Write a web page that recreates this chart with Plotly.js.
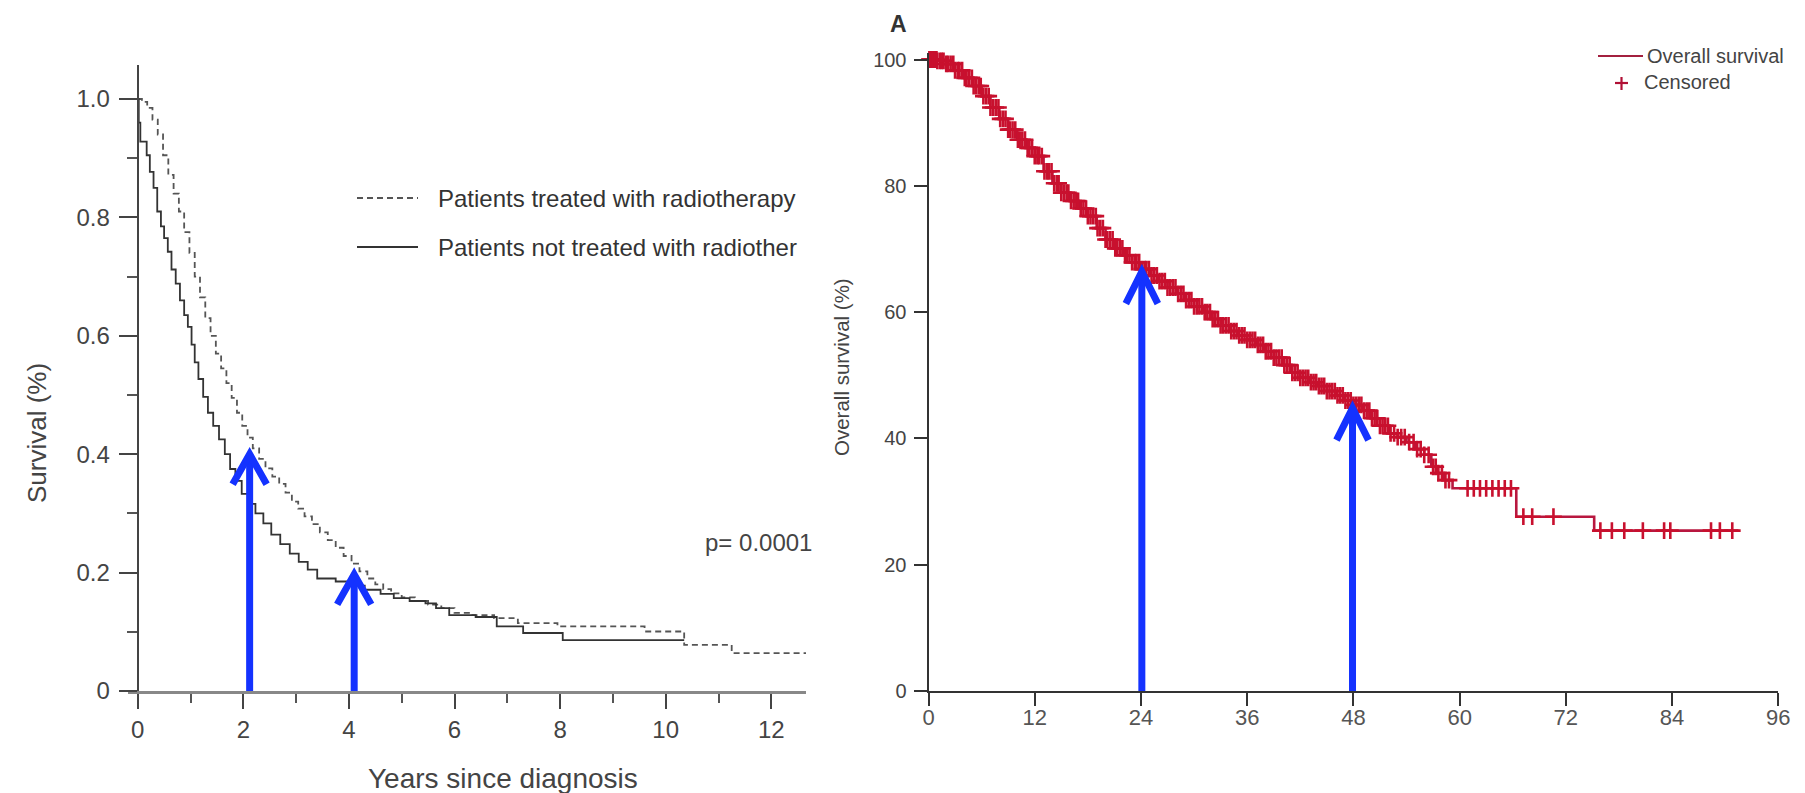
<!DOCTYPE html>
<html><head><meta charset="utf-8">
<script src="https://cdn.plot.ly/plotly-3.0.1.min.js"></script>
<style>html,body{margin:0;padding:0;background:#fff;}#chart{width:1805px;height:793px;}</style>
</head><body><div id="chart"></div>
<script>
// ---------- Left panel data (years since diagnosis, survival fraction) ----------
const treatedYears = [0,0.08,0.18,0.28,0.38,0.48,0.58,0.68,0.78,0.88,0.98,1.08,1.18,1.28,1.38,1.48,1.58,1.68,1.78,1.88,1.98,2.08,2.18,2.3,2.42,2.55,2.68,2.8,2.92,3.04,3.16,3.3,3.45,3.6,3.75,3.9,4.05,4.2,4.35,4.5,4.65,4.8,5.0,5.25,5.5,5.75,6.0,6.3,6.75,7.2,7.95,9.6,10.35,11.25,12.66];
const treatedSurv  = [1.0,0.995,0.985,0.965,0.94,0.905,0.872,0.84,0.81,0.775,0.74,0.70,0.665,0.63,0.60,0.57,0.545,0.52,0.495,0.47,0.448,0.428,0.41,0.392,0.376,0.362,0.35,0.335,0.32,0.308,0.295,0.282,0.268,0.255,0.242,0.228,0.215,0.202,0.19,0.18,0.172,0.165,0.158,0.152,0.146,0.14,0.132,0.128,0.123,0.1146,0.109,0.1005,0.078,0.064,0.064];
const untreatedYears = [0,0.02,0.05,0.17,0.23,0.3,0.37,0.44,0.5,0.57,0.64,0.72,0.8,0.88,0.95,1.02,1.08,1.15,1.24,1.33,1.43,1.54,1.65,1.75,1.85,1.97,2.1,2.23,2.38,2.53,2.7,2.88,3.05,3.22,3.4,3.75,4.0,4.3,4.6,4.85,5.15,5.45,5.65,5.9,6.4,6.8,7.3,8.05,10.35];
const untreatedSurv  = [1.0,0.96,0.928,0.905,0.877,0.85,0.81,0.785,0.765,0.742,0.712,0.688,0.66,0.635,0.615,0.585,0.555,0.527,0.497,0.47,0.448,0.425,0.40,0.375,0.355,0.333,0.316,0.30,0.283,0.264,0.248,0.232,0.218,0.205,0.19,0.185,0.178,0.171,0.164,0.157,0.152,0.148,0.14,0.128,0.125,0.109,0.098,0.086,0.086];
const leftXTicks = [0,2,4,6,8,10,12];
const leftXMinor = [1,3,5,7,9,11];
const leftYTickVals = [0,0.2,0.4,0.6,0.8,1.0];
const leftYTickText = ['0','0.2','0.4','0.6','0.8','1.0'];
const leftYMinor = [0.1,0.3,0.5,0.7,0.9];
const leftNames = ['Patients treated with radiotherapy','Patients not treated with radiother'];

// ---------- Right panel data (months, overall survival %) ----------
const osMonths = [0,1,2,3,4,5,6,7,8,9,10,11,12,13,14,15,16,17,18,19,20,21,22,23,24,25,26,27,28,29,30,31,32,33,34,35,36,37,38,39,40,41,42,43,44,45,46,47,48,49,50,51,52,53,54,55,56,56.8,57.4,58.2,59.2,66.4,75.2,91.5];
const osPct = [100,99.8,99.3,98.3,97.1,95.8,94.2,92.4,90.6,88.9,87.3,86.0,84.7,82.3,80.4,78.9,77.6,76.4,75.2,73.3,71.5,70.1,69.0,67.9,66.8,65.8,64.9,63.9,62.9,61.9,60.9,60.0,58.9,57.9,57.0,56.3,55.6,54.8,53.8,52.8,51.6,50.4,49.6,48.9,48.3,47.5,46.8,46.0,45.3,44.4,43.2,42.0,40.8,40.2,39.4,38.3,37.4,35.5,34.5,33.4,32.1,27.6,25.4,25.4];
const censorMonths = [0.1,0.2,0.4,0.5,0.7,0.9,1.0,1.3,1.5,1.7,2.0,2.2,2.5,2.8,3.0,3.3,3.5,3.8,4.1,4.3,4.6,4.9,5.1,5.4,5.7,5.9,6.2,6.5,6.8,7.0,7.3,7.6,7.9,8.1,8.4,8.7,9.0,9.2,9.5,9.8,10.1,10.3,10.6,10.9,11.2,11.4,11.7,12.0,12.3,12.5,12.8,13.1,13.4,13.6,13.9,14.2,14.5,14.7,15.0,15.3,15.6,15.8,16.1,16.4,16.7,16.9,17.2,17.5,17.8,18.0,18.3,18.6,18.9,19.1,19.4,19.7,20.0,20.2,20.5,20.8,21.1,21.3,21.6,21.9,22.2,22.4,22.7,23.0,23.3,23.5,23.8,24.1,24.4,24.6,24.9,25.2,25.5,25.8,26.1,26.4,26.7,27.0,27.3,27.6,27.9,28.2,28.5,28.8,29.1,29.4,29.7,30.0,30.3,30.6,30.9,31.2,31.5,31.8,32.1,32.4,32.7,33.0,33.3,33.6,33.9,34.2,34.5,34.8,35.1,35.4,35.7,36.0,36.3,36.6,36.9,37.2,37.5,37.8,38.1,38.4,38.7,39.0,39.3,39.6,39.9,40.2,40.5,40.8,41.1,41.4,41.7,42.0,42.3,42.6,42.9,43.2,43.5,43.8,44.1,44.4,44.7,45.0,45.3,45.6,45.9,46.2,46.5,46.8,47.1,47.4,47.7,48.0,48.3,48.6,48.9,49.2,49.5,49.8,50.1,50.4,50.7,51.0,51.3,51.6,51.9,52.2,52.6,53.0,53.4,53.8,54.3,54.8,55.2,55.6,56.0,56.5,57.0,57.3,57.6,58.0,58.4,58.8,60.9,61.6,62.3,63.0,63.7,64.4,65.1,65.8,67.2,68.2,70.6,75.9,77.2,78.6,80.7,83.1,83.8,88.4,89.4,90.8];
const rightXTicks = [0,12,24,36,48,60,72,84,96];
const rightYTicks = [0,20,40,60,80,100];
const rightNames = ['Overall survival','Censored'];

// Arrow annotations (tip positions)
const leftArrows = [{x:2.12, y:0.40}, {x:4.1, y:0.197}];
const rightArrows = [{x:24.1, y:66.4}, {x:47.9, y:44.8}];

// step-function lookup of the KM curve at a censoring time
function kmAt(t){ let v = osPct[0]; for(let i=0;i<osMonths.length;i++){ if(osMonths[i] <= t) v = osPct[i]; } return v; }
const censorPct = censorMonths.map(kmAt);

const W = 1805, H = 793;
const px = v => v / W;
const py = v => 1 - v / H;
const FONT = 'Liberation Sans, Arial, sans-serif';

const traces = [
  {x: treatedYears, y: treatedSurv, name: leftNames[0], xaxis:'x', yaxis:'y', mode:'lines',
   line:{shape:'hv', color:'#555', width:1.8, dash:'6px,4px'}, hoverinfo:'skip'},
  {x: untreatedYears, y: untreatedSurv, name: leftNames[1], xaxis:'x', yaxis:'y', mode:'lines',
   line:{shape:'hv', color:'#333', width:1.8}, hoverinfo:'skip'},
  {x: osMonths, y: osPct, name: rightNames[0], xaxis:'x2', yaxis:'y2', mode:'lines',
   line:{shape:'hv', color:'#b8173f', width:2.6}, hoverinfo:'skip'},
  {x: censorMonths, y: censorPct, name: rightNames[1], xaxis:'x2', yaxis:'y2', mode:'markers', cliponaxis:false,
   marker:{symbol:'cross-thin', size:12, color:'#c8102e', line:{width:2.6, color:'#c8102e'}}, hoverinfo:'skip'}
];

const shapes = [];
const annotations = [];
const BLUE = '#1432ff';
function addArrow(xa, ya, a, hw, hh){
  shapes.push({type:'line', xref:xa, yref:ya, x0:a.x, x1:a.x, y0:0, y1:a.y, line:{color:BLUE, width:7}});
  shapes.push({type:'path', xref:xa, yref:ya, xsizemode:'pixel', ysizemode:'pixel', xanchor:a.x, yanchor:a.y,
    path:'M'+(-hw)+','+(-hh)+'L0,0L'+hw+','+(-hh), line:{color:BLUE, width:7}});
}
leftArrows.forEach(a => addArrow('x','y',a,17,30));
rightArrows.forEach(a => addArrow('x2','y2',a,16,32));

// left legend samples
shapes.push({type:'line', xref:'paper', yref:'paper', x0:px(357), x1:px(418), y0:py(198), y1:py(198), line:{color:'#555', width:1.8, dash:'6px,4px'}});
shapes.push({type:'line', xref:'paper', yref:'paper', x0:px(357), x1:px(418), y0:py(247), y1:py(247), line:{color:'#333', width:1.8}});
annotations.push({xref:'paper', yref:'paper', x:px(436), y:py(199), xanchor:'left', yanchor:'middle', showarrow:false, text:leftNames[0], font:{family:FONT, size:24, color:'#333'}});
annotations.push({xref:'paper', yref:'paper', x:px(436), y:py(248), xanchor:'left', yanchor:'middle', showarrow:false, text:leftNames[1], font:{family:FONT, size:24, color:'#333'}});
annotations.push({xref:'paper', yref:'paper', x:px(703), y:py(542), xanchor:'left', yanchor:'middle', showarrow:false, text:'p= 0.0001', font:{family:FONT, size:24, color:'#444'}});
annotations.push({xref:'paper', yref:'paper', x:px(37), y:py(433), xanchor:'center', yanchor:'middle', showarrow:false, textangle:-90, text:'Survival (%)', font:{family:FONT, size:26, color:'#444'}});
annotations.push({xref:'paper', yref:'paper', x:px(503), y:py(778), xanchor:'center', yanchor:'middle', showarrow:false, text:'Years since diagnosis', font:{family:FONT, size:28, color:'#444'}});

// right panel texts & legend
annotations.push({xref:'paper', yref:'paper', x:px(898), y:py(24), xanchor:'center', yanchor:'middle', showarrow:false, text:'<b>A</b>', font:{family:FONT, size:23, color:'#333'}});
annotations.push({xref:'paper', yref:'paper', x:px(842), y:py(367), xanchor:'center', yanchor:'middle', showarrow:false, textangle:-90, text:'Overall survival (%)', font:{family:FONT, size:20.5, color:'#444'}});
shapes.push({type:'line', xref:'paper', yref:'paper', x0:px(1598), x1:px(1643), y0:py(56), y1:py(56), line:{color:'#a3203f', width:2}});
shapes.push({type:'line', xref:'paper', yref:'paper', x0:px(1615), x1:px(1628), y0:py(83), y1:py(83), line:{color:'#b01035', width:2.2}});
shapes.push({type:'line', xref:'paper', yref:'paper', x0:px(1621.5), x1:px(1621.5), y0:py(77), y1:py(90), line:{color:'#b01035', width:2.2}});
annotations.push({xref:'paper', yref:'paper', x:px(1645), y:py(56), xanchor:'left', yanchor:'middle', showarrow:false, text:rightNames[0], font:{family:FONT, size:20, color:'#444'}});
annotations.push({xref:'paper', yref:'paper', x:px(1642), y:py(82), xanchor:'left', yanchor:'middle', showarrow:false, text:rightNames[1], font:{family:FONT, size:20, color:'#444'}});

const layout = {
  width: W, height: H, margin:{l:0,r:0,t:0,b:0}, showlegend:false,
  paper_bgcolor:'#fff', plot_bgcolor:'rgba(0,0,0,0)',
  xaxis:{domain:[px(128), px(806)], range:[-(137.7-128)/52.8, (806-137.7)/52.8], anchor:'y',
    showline:true, linecolor:'#888', linewidth:3, showgrid:false, zeroline:false,
    tickmode:'array', tickvals:leftXTicks, ticktext:leftXTicks.map(String),
    ticks:'outside', ticklen:15, tickwidth:2, tickcolor:'#444',
    minor:{tickmode:'array', tickvals:leftXMinor, ticks:'outside', ticklen:9, tickwidth:2, tickcolor:'#555'},
    tickfont:{family:FONT, size:24, color:'#444'}},
  yaxis:{domain:[py(691), py(65)], range:[0, (691-65)/592], anchor:'free', position:px(137.7),
    showline:true, linecolor:'#444', linewidth:2, showgrid:false, zeroline:false,
    tickmode:'array', tickvals:leftYTickVals, ticktext:leftYTickText,
    ticks:'outside', ticklen:18, tickwidth:2, tickcolor:'#444', ticklabelstandoff:4,
    minor:{tickmode:'array', tickvals:leftYMinor, ticks:'outside', ticklen:10, tickwidth:2, tickcolor:'#555'},
    tickfont:{family:FONT, size:24, color:'#444'}},
  xaxis2:{domain:[px(928.5), px(1778.3)], range:[0,96], anchor:'y2',
    showline:true, linecolor:'#333', linewidth:2, showgrid:false, zeroline:false,
    tickmode:'array', tickvals:rightXTicks, ticktext:rightXTicks.map(String),
    ticks:'outside', ticklen:13, tickwidth:2, tickcolor:'#333', ticklabelstandoff:-7,
    tickfont:{family:FONT, size:22, color:'#555'}},
  yaxis2:{domain:[py(691), py(53.2)], range:[0,101], anchor:'x2',
    showline:true, linecolor:'#333', linewidth:2, showgrid:false, zeroline:false,
    tickmode:'array', tickvals:rightYTicks, ticktext:rightYTicks.map(String),
    ticks:'outside', ticklen:13, tickwidth:2, tickcolor:'#333', ticklabelstandoff:3,
    tickfont:{family:FONT, size:20, color:'#444'}},
  shapes: shapes, annotations: annotations
};

Plotly.newPlot('chart', traces, layout, {staticPlot:true, displayModeBar:false});
</script></body></html>
